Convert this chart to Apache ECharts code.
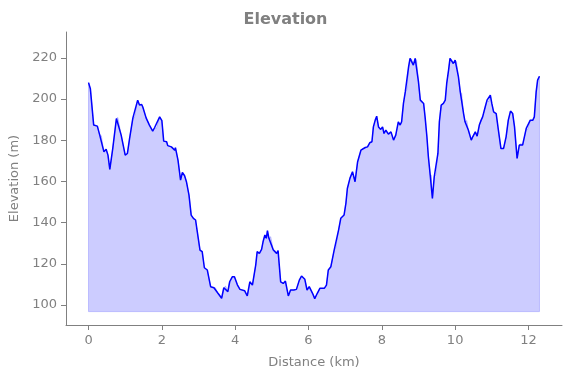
<!DOCTYPE html>
<html>
<head>
<meta charset="utf-8">
<script src="https://cdn.jsdelivr.net/npm/echarts@6/dist/echarts.min.js"></script>
<style>
  html, body { margin: 0; padding: 0; background: #fff; }
  #chart { width: 571px; height: 378px; }
</style>
</head>
<body>
<div id="chart"></div>
<script>
// elevation profile, values
var distanceKm = [
  0.00, 0.05, 0.14, 0.24, 0.30, 0.35, 0.42, 0.48, 0.53, 0.58, 0.66, 0.76, 0.80, 0.89, 1.00, 1.06,
  1.12, 1.21, 1.25, 1.34, 1.39, 1.45, 1.48, 1.57, 1.66, 1.75, 1.80, 1.85, 1.94, 2.00, 2.05, 2.13,
  2.16, 2.26, 2.31, 2.35, 2.37, 2.44, 2.51, 2.56, 2.62, 2.67, 2.74, 2.80, 2.86, 2.92, 2.96, 3.04,
  3.10, 3.16, 3.24, 3.33, 3.42, 3.46, 3.53, 3.58, 3.63, 3.69, 3.74, 3.80, 3.85, 3.92, 3.98, 4.06,
  4.13, 4.26, 4.33, 4.40, 4.47, 4.56, 4.60, 4.66, 4.72, 4.76, 4.81, 4.85, 4.88, 4.92, 4.97, 5.04,
  5.08, 5.13, 5.17, 5.24, 5.31, 5.37, 5.45, 5.51, 5.60, 5.67, 5.75, 5.81, 5.90, 5.96, 6.02, 6.11,
  6.17, 6.24, 6.31, 6.43, 6.49, 6.54, 6.61, 6.70, 6.74, 6.82, 6.88, 6.97, 7.02, 7.06, 7.13, 7.20,
  7.27, 7.34, 7.43, 7.47, 7.55, 7.61, 7.67, 7.73, 7.77, 7.82, 7.86, 7.91, 7.97, 8.02, 8.06, 8.11,
  8.18, 8.25, 8.32, 8.38, 8.45, 8.50, 8.54, 8.59, 8.64, 8.68, 8.73, 8.77, 8.82, 8.86, 8.91, 8.95,
  9.00, 9.05, 9.09, 9.14, 9.18, 9.23, 9.27, 9.32, 9.35, 9.38, 9.43, 9.47, 9.53, 9.57, 9.62, 9.68,
  9.73, 9.77, 9.82, 9.86, 9.91, 9.95, 10.00, 10.04, 10.09, 10.14, 10.18, 10.23, 10.27, 10.32, 10.36, 10.44,
  10.48, 10.55, 10.60, 10.66, 10.71, 10.75, 10.82, 10.87, 10.91, 10.96, 11.00, 11.05, 11.12, 11.18, 11.25, 11.32,
  11.39, 11.45, 11.51, 11.57, 11.62, 11.69, 11.75, 11.80, 11.84, 11.94, 11.98, 12.05, 12.12, 12.16, 12.21, 12.25,
  12.30
];
var elevationM = [
  208.0, 205.0, 187.4, 186.9, 182.9, 182.2, 174.4, 175.7, 172.8, 165.9, 176.0, 190.6, 191.1, 182.5, 172.8, 173.6,
  180.9, 190.9, 190.9, 199.5, 197.1, 197.4, 196.2, 190.9, 187.4, 184.5, 186.1, 185.8, 191.4, 189.6, 179.6, 179.3,
  177.4, 176.8, 176.4, 175.2, 176.4, 170.4, 160.7, 164.4, 162.8, 159.9, 153.4, 143.7, 142.1, 141.3, 136.4, 126.7,
  125.9, 118.1, 117.0, 108.9, 108.4, 108.4, 105.7, 105.2, 103.3, 108.4, 109.2, 106.5, 111.3, 113.7, 113.7, 109.8,
  107.6, 106.9, 104.4, 111.3, 109.7, 119.4, 125.9, 125.1, 127.0, 130.7, 134.0, 132.4, 136.1, 132.4, 133.2, 126.7,
  126.7, 125.1, 126.4, 111.3, 110.5, 111.6, 104.4, 107.3, 107.3, 107.6, 112.1, 114.1, 112.5, 107.3, 108.9, 105.7,
  103.1, 105.7, 108.1, 108.1, 109.7, 117.0, 118.6, 126.7, 127.5, 136.4, 142.1, 143.7, 149.4, 156.6, 161.5, 164.7,
  159.9, 169.6, 175.2, 176.0, 176.5, 176.8, 178.8, 179.3, 186.5, 189.8, 191.7, 186.5, 185.3, 186.5, 183.3, 184.9,
  183.0, 184.1, 180.1, 182.5, 189.0, 187.4, 189.0, 197.9, 203.5, 204.4, 215.7, 219.8, 219.3, 216.5, 219.8, 218.9,
  208.4, 199.5, 198.7, 197.9, 191.4, 181.7, 172.0, 163.1, 163.1, 151.8, 162.3, 163.1, 173.6, 189.0, 197.1, 197.9,
  199.5, 207.6, 214.0, 219.8, 218.9, 217.3, 218.9, 218.1, 210.8, 203.5, 202.7, 193.0, 189.0, 189.6, 185.0, 180.1,
  181.7, 184.1, 182.0, 187.4, 189.8, 191.4, 196.2, 199.5, 198.7, 201.9, 197.9, 193.8, 193.0, 184.9, 176.0, 176.0,
  181.7, 189.8, 194.2, 193.0, 186.5, 171.2, 177.7, 178.5, 177.7, 185.8, 185.3, 189.8, 189.8, 191.4, 203.5, 209.2,
  211.1
];
var fillBase = 96.8;
var xTicks = [0, 2, 4, 6, 8, 10, 12];
var yTicks = [100, 120, 140, 160, 180, 200, 220];

var chart = echarts.init(document.getElementById('chart'), null, { renderer: 'canvas' });

var linePts = [];
for (var i = 0; i < distanceKm.length; i++) {
  linePts.push([distanceKm[i], elevationM[i]]);
}

var axisGray = '#808080';
var fontFam = 'DejaVu Sans';

var option = {
  animation: false,
  title: {
    text: 'Elevation',
    left: 'center',
    top: 7,
    textStyle: { color: axisGray, fontSize: 16, fontWeight: 'bold', fontFamily: fontFam }
  },
  grid: { left: 66, right: 9, top: 32, bottom: 53 },
  xAxis: {
    type: 'value',
    min: -0.615,
    max: 12.915,
    name: 'Distance (km)',
    nameLocation: 'middle',
    nameGap: 31,
    nameTextStyle: { color: axisGray, fontSize: 13, fontFamily: fontFam },
    splitLine: { show: false },
    axisLine: { show: true, onZero: false, lineStyle: { color: axisGray, width: 1 } },
    axisTick: { show: true, inside: false, length: 5, customValues: xTicks, lineStyle: { color: axisGray } },
    axisLabel: { color: axisGray, fontSize: 13, fontFamily: fontFam, margin: 9, customValues: xTicks,
      showMinLabel: true, showMaxLabel: true }
  },
  yAxis: {
    type: 'value',
    min: 90.3,
    max: 232.6,
    name: 'Elevation (m)',
    nameLocation: 'middle',
    nameGap: 40,
    nameTextStyle: { color: axisGray, fontSize: 13, fontFamily: fontFam },
    splitLine: { show: false },
    axisLine: { show: true, onZero: false, lineStyle: { color: axisGray, width: 1 } },
    axisTick: { show: true, inside: false, length: 5, customValues: yTicks, lineStyle: { color: axisGray } },
    axisLabel: { color: axisGray, fontSize: 13, fontFamily: fontFam, margin: 9, customValues: yTicks }
  },
  series: [
    {
      // shaded area down to the baseline, with its faint outline
      type: 'custom',
      silent: true,
      data: [0],
      renderItem: function (params, api) {
        var pts = [];
        for (var k = 0; k < linePts.length; k++) {
          pts.push(api.coord(linePts[k]));
        }
        pts.push(api.coord([distanceKm[distanceKm.length - 1], fillBase]));
        pts.push(api.coord([distanceKm[0], fillBase]));
        return {
          type: 'polygon',
          shape: { points: pts },
          style: { fill: 'rgba(0,0,255,0.2)', stroke: 'rgba(0,0,255,0.2)', lineWidth: 1 }
        };
      },
      z: 1
    },
    {
      name: 'Elevation',
      type: 'line',
      data: linePts,
      showSymbol: false,
      symbol: 'none',
      lineStyle: { color: '#0000ff', width: 1.5 },
      z: 3
    }
  ]
};

chart.setOption(option);
window.addEventListener('resize', function () {
  chart.resize();
});
</script>
</body>
</html>
